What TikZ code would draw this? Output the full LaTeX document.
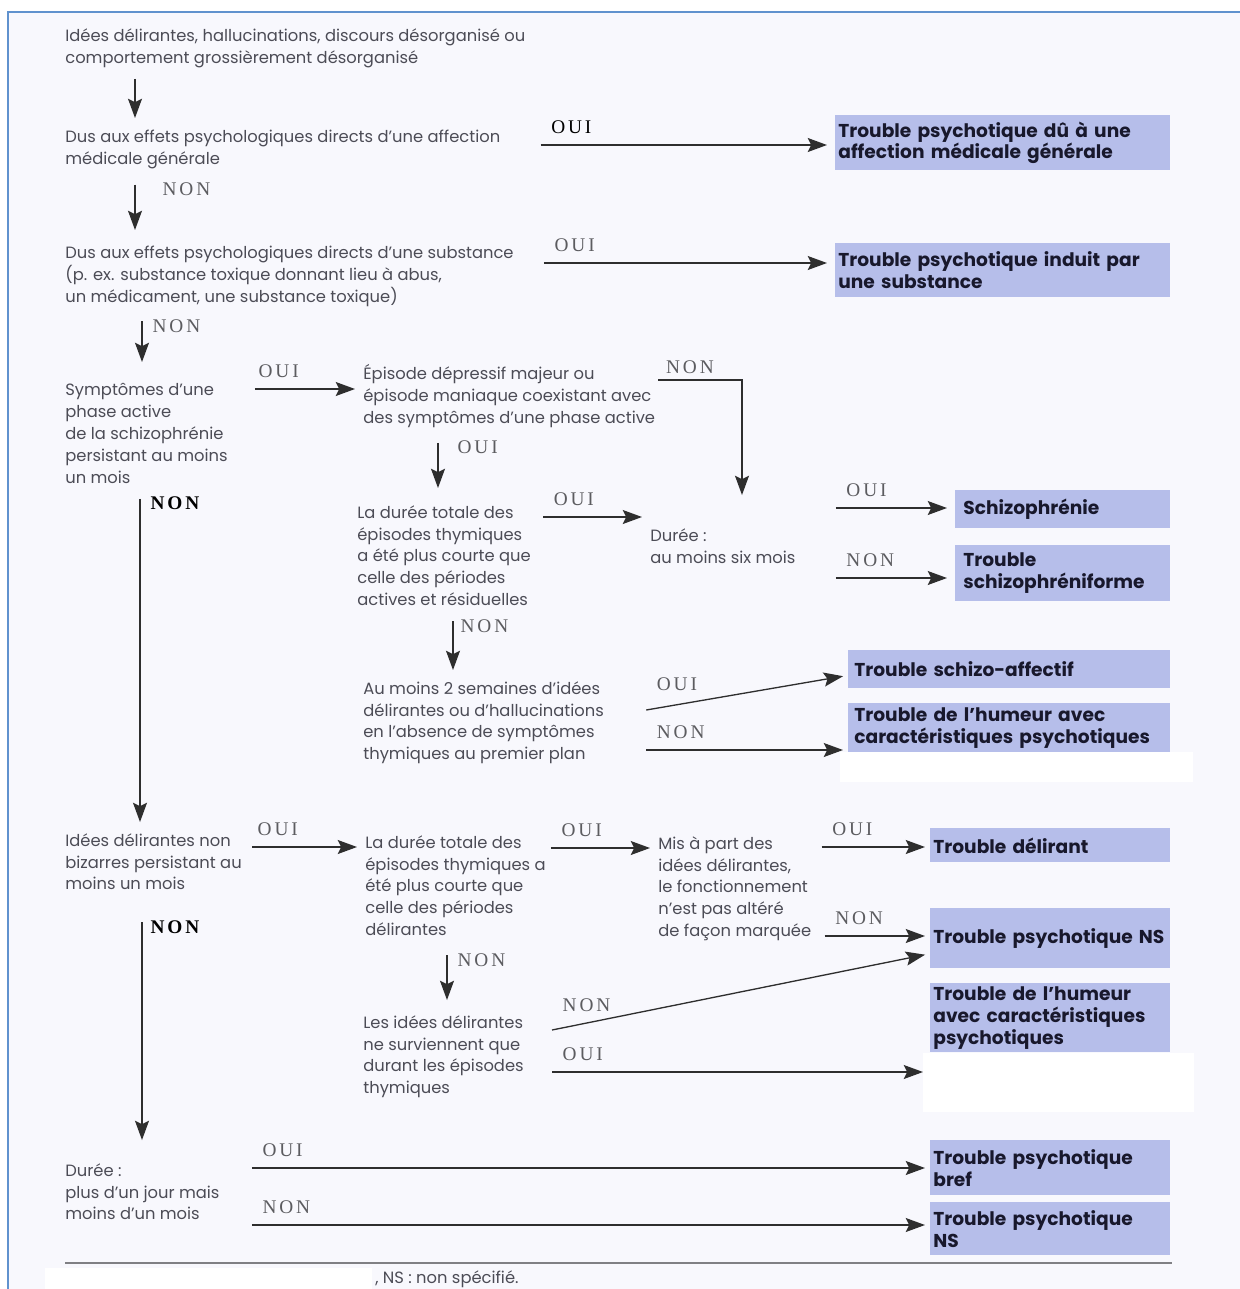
\documentclass[tikz,border=0pt]{standalone}
\usepackage{fontspec}
\setmainfont{Poppins}
\newfontfamily\labelfont[LetterSpace=15]{Liberation Serif}
\usepackage{xcolor}
\usetikzlibrary{arrows.meta,calc}
\definecolor{frame-blue}{RGB}{96,146,206}
\definecolor{paper}{RGB}{248,248,253}
\definecolor{outcome-blue}{RGB}{182,190,234}
\definecolor{question-ink}{RGB}{76,76,86}
\definecolor{outcome-ink}{RGB}{24,24,44}
\definecolor{answer-ink}{RGB}{92,92,96}
\definecolor{rule-gray}{RGB}{128,128,132}
\tikzstyle{question}=[anchor=north west, align=left, inner sep=0pt, text=question-ink, font=\fontsize{9.3}{12.47}\selectfont]
\tikzstyle{outcome}=[anchor=north west, align=left, inner xsep=0.06cm, inner ysep=0pt, fill=outcome-blue, text=outcome-ink, font=\bfseries\fontsize{10.6}{12.47}\selectfont]
\tikzstyle{answer}=[anchor=base west, inner sep=0pt, at start, xshift=0.2cm, yshift=0.23cm, text=answer-ink, font=\labelfont\fontsize{11}{13}\selectfont]
\tikzstyle{vanswer}=[answer, anchor=north west, yshift=-0.18cm]
\tikzstyle{strong}=[text=black, font=\labelfont\bfseries\fontsize{11}{13}\selectfont]
\tikzstyle{flow}=[draw=black!82, line width=0.75pt, shorten >=0.16cm, -{Stealth[length=11pt,width=8pt,inset=2pt]}]
\newcommand{\outcomeNbox}[5]{
	\node[outcome, text width=#3, minimum height=#4] (#1) at #2 {#5};
}

\begin{document}
\begin{tikzpicture}[x=0.02cm, y=-0.02cm]
	\useasboundingbox (0,0) rectangle (1240,1289);
	\fill[white] (0,0) rectangle (1240,1289);
	\fill[paper] (8,12) rectangle (1240,1289);
	\draw[frame-blue, line width=1.6pt] (8,1289) -- (8,12) -- (1240,12);

	\node[question] (q0) at (65,28) {Idées délirantes, hallucinations, discours désorganisé ou\\comportement grossièrement désorganisé};
	\node[question] (q1) at (65,130) {Dus aux effets psychologiques directs d'une affection\\médicale générale};
	\node[question] (q2) at (65,246) {Dus aux effets psychologiques directs d'une substance\\(p. ex. substance toxique donnant lieu à abus,\\un médicament, une substance toxique)};
	\node[question] (q3) at (65,383) {Symptômes d'une\\phase active\\de la schizophrénie\\persistant au moins\\un mois};
	\node[question] (q4) at (363,364) {Épisode dépressif majeur ou\\épisode maniaque coexistant avec\\des symptômes d'une phase active};
	\node[question] (q5) at (357,505) {La durée totale des\\épisodes thymiques\\a été plus courte que\\celle des périodes\\actives et résiduelles};
	\node[question] (q6) at (650,528) {Durée~:\\au moins six mois};
	\node[question] (q7) at (363,681) {Au moins 2 semaines d'idées\\délirantes ou d'hallucinations\\en l'absence de symptômes\\thymiques au premier plan};
	\node[question] (q8) at (65,833) {Idées délirantes non\\bizarres persistant au\\moins un mois};
	\node[question] (q9) at (365,835) {La durée totale des\\épisodes thymiques a\\été plus courte que\\celle des périodes\\délirantes};
	\node[question] (q10) at (658,836) {Mis à part des\\idées délirantes,\\le fonctionnement\\n'est pas altéré\\de façon marquée};
	\node[question] (q11) at (363,1015) {Les idées délirantes\\ne surviennent que\\durant les épisodes\\thymiques};
	\node[question] (q12) at (65,1163) {Durée~:\\plus d'un jour mais\\moins d'un mois};

	\outcomeNbox{r1}{(835,115)}{6.58cm}{1.1cm}{Trouble psychotique dû à une\\affection médicale générale}
	\outcomeNbox{r2}{(835,243)}{6.58cm}{1.08cm}{Trouble psychotique induit par\\une substance}
	\outcomeNbox{r3}{(955,490)}{4.18cm}{0.76cm}{\hspace{0.1cm}Schizophrénie}
	\outcomeNbox{r4}{(955,545)}{4.18cm}{1.12cm}{\hspace{0.1cm}Trouble\\\hspace*{0.1cm}schizophréniforme}
	\outcomeNbox{r5}{(848,650)}{6.32cm}{0.76cm}{\hspace{0.06cm}Trouble schizo-affectif}
	\outcomeNbox{r6}{(848,703)}{6.32cm}{0.98cm}{\hspace{0.06cm}Trouble de l'humeur avec\\\hspace*{0.06cm}caractéristiques psychotiques}
	\outcomeNbox{r7}{(930,828)}{4.68cm}{0.68cm}{Trouble délirant}
	\outcomeNbox{r8}{(930,908)}{4.68cm}{1.2cm}{Trouble psychotique NS}
	\outcomeNbox{r9}{(930,983)}{4.68cm}{1.38cm}{Trouble de l'humeur\\avec caractéristiques\\psychotiques}
	\outcomeNbox{r10}{(930,1140)}{4.68cm}{1.1cm}{Trouble psychotique\\bref}
	\outcomeNbox{r11}{(930,1202)}{4.68cm}{1.06cm}{Trouble psychotique\\NS}
	\fill[white] (840,752) rectangle (1193,782);
	\node[fill=white, inner sep=0pt, anchor=north west, minimum width=5.42cm, minimum height=1.18cm] (w2) at (923,1053) {};

	\coordinate (d0) at ($(q0.south west)+(70,11)$);
	\coordinate (d1) at ($(q1.south west)+(70,15)$);
	\coordinate (d2) at ($(q2.south west)+(77,14)$);
	\coordinate (d3) at ($(q3.south west)+(75,15)$);
	\coordinate (d4) at ($(q8.south west)+(77,32)$);
	\coordinate (d5) at ($(q4.south west)+(75,15)$);
	\coordinate (d6) at ($(q5.south west)+(96,15)$);
	\coordinate (d7) at ($(q9.south west)+(82,19)$);
	\draw[flow, shorten >=0.24cm] (d0) -- (d0 |- q1.north);
	\draw[flow, shorten >=0.32cm] (d1) -- (d1 |- q2.north) node[vanswer, xshift=0.34cm] (n1) {NON};
	\draw[flow, shorten >=0.42cm] (d2) -- (d2 |- q3.north) node[vanswer] (n2) {NON};
	\draw[flow, shorten >=0.22cm] (d3) -- (d3 |- q8.north) node[vanswer, strong] (n3) {NON};
	\draw[flow, shorten >=0.46cm] (d4) -- (d4 |- q12.north) node[vanswer, strong, xshift=-0.04cm] (n4) {NON};
	\draw[flow, shorten >=0.34cm] (d5) -- (d5 |- q5.north) node[vanswer, xshift=0.18cm] (o5) {OUI};
	\draw[flow, shorten >=0.22cm] (d6) -- (d6 |- q7.north) node[vanswer, xshift=-0.06cm] (n6) {NON};
	\draw[flow, shorten >=0.3cm] (d7) -- (d7 |- q11.north) node[vanswer] (n7) {NON};

	\coordinate (s1) at ($(q1.north east)+(40,15)$);
	\coordinate (s2) at ($(q2.north east)+(30,17)$);
	\coordinate (s3) at ($(q3.north east)+(27,6)$);
	\coordinate (s4) at ($(q4.north east)+(3,16)$);
	\coordinate (t4) at ($(q6.north west)+(92,0)$);
	\coordinate (s5) at ($(q5.north east)+(12,12)$);
	\coordinate (s6a) at ($(q6.north east)+(40,-20)$);
	\coordinate (s6b) at ($(q6.north east)+(40,50)$);
	\coordinate (s7a) at ($(q7.north east)+(42,29)$);
	\coordinate (s7b) at ($(q7.north east)+(42,69)$);
	\coordinate (s8) at ($(q8.north east)+(10,14)$);
	\coordinate (s9) at ($(q9.north east)+(5,13)$);
	\coordinate (s10a) at ($(q10.north east)+(10,11)$);
	\coordinate (s10b) at ($(q10.north east)+(13,100)$);
	\coordinate (s11a) at ($(q11.north east)+(28,15)$);
	\coordinate (s11b) at ($(q11.north east)+(28,57)$);
	\coordinate (s12a) at ($(q12.north east)+(32,5)$);
	\coordinate (s12b) at ($(q12.north east)+(32,62)$);
	\draw[flow] (s1) -- (s1 -| r1.west) node[answer, text=black] (h1) {OUI};
	\draw[flow] (s2) -- (s2 -| r2.west) node[answer] (h2) {OUI};
	\draw[flow] (s3) -- (s3 -| q4.west) node[answer, xshift=-0.14cm] (h3) {OUI};
	\draw[flow, shorten >=0.66cm] (s4) -| (t4) node[answer, xshift=-0.06cm, yshift=-0.1cm] (h4) {NON};
	\draw[flow] (s5) -- (s5 -| q6.west) node[answer] (h5) {OUI};
	\draw[flow] (s6a) -- (s6a -| r3.west) node[answer] (h6a) {OUI};
	\draw[flow] (s6b) -- (s6b -| r4.west) node[answer] (h6b) {NON};
	\draw[flow, shorten >=0.1cm] (s7a) -- ($(r5.west)+(0,6)$) node[answer, yshift=0.16cm] (h7a) {OUI};
	\draw[flow, shorten >=0.1cm] (s7b) -- (s7b -| r6.west) node[answer] (h7b) {NON};
	\draw[flow] (s8) -- (s8 -| q9.west) node[answer, xshift=-0.1cm] (h8) {OUI};
	\draw[flow] (s9) -- (s9 -| q10.west) node[answer] (h9) {OUI};
	\draw[flow, shorten >=0.1cm] (s10a) -- (s10a -| r7.west) node[answer] (h10a) {OUI};
	\draw[flow, shorten >=0.1cm] (s10b) -- (s10b -| r8.west) node[answer] (h10b) {NON};
	\draw[flow, shorten >=0.1cm] (s11a) -- ($(r8.south west)+(0,-15)$) node[answer, yshift=0.14cm] (h11a) {NON};
	\draw[flow, shorten >=0.0cm] (s11b) -- (s11b -| w2.west) node[answer] (h11b) {OUI};
	\draw[flow, shorten >=0.1cm] (s12a) -- (s12a -| r10.west) node[answer] (h12a) {OUI};
	\draw[flow, shorten >=0.1cm] (s12b) -- (s12b -| r11.west) node[answer] (h12b) {NON};

	\draw[rule-gray, line width=1.5pt] (65,1263) -- (1172,1263);
	\fill[white] (45,1268) rectangle (372,1289);
	\node[question, anchor=west] (fn) at (375,1279) {, NS~: non spécifié.};
\end{tikzpicture}
\end{document}
